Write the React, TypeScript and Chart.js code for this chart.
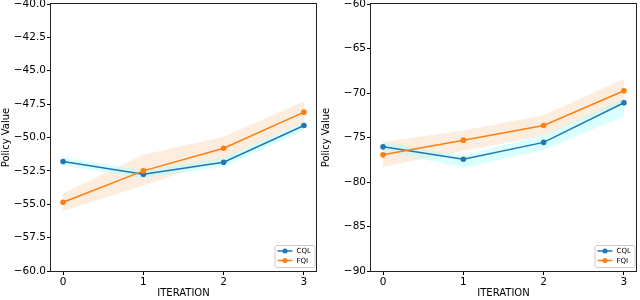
import React, { useEffect, useRef } from "react";
import { Chart, registerables } from "chart.js";

Chart.register(...registerables);

const iterations = [0, 1, 2, 3];
const xTicks = [0, 1, 2, 3];

// Left panel
const leftCQL = [-51.8, -52.75, -51.85, -49.1];
const leftCQLHi = [-51.5, -52.45, -51.5, -48.85];
const leftCQLLo = [-52.1, -53.05, -52.2, -49.5];
const leftFQI = [-54.85, -52.5, -50.8, -48.1];
const leftFQIHi = [-54.2, -51.3, -49.95, -47.3];
const leftFQILo = [-55.5, -53.6, -51.6, -48.9];
const leftYMin = -60;
const leftYMax = -40;
const leftYStep = 2.5;

// Right panel
const rightCQL = [-76.05, -77.45, -75.55, -71.1];
const rightCQLHi = [-75.6, -77.0, -74.75, -70.6];
const rightCQLLo = [-76.5, -78.4, -76.4, -72.6];
const rightFQI = [-76.95, -75.3, -73.65, -69.75];
const rightFQIHi = [-75.5, -74.2, -72.5, -68.4];
const rightFQILo = [-78.3, -76.5, -74.8, -71.0];
const rightYMin = -90;
const rightYMax = -60;
const rightYStep = 5;

const seriesNames = ["CQL", "FQI"];
const colors = ["#1f77b4", "#ff7f0e"];
const bandColors = ["rgba(170,255,255,0.45)", "rgba(245,195,150,0.3)"];

const FONT = "'DejaVu Sans', sans-serif";

const pts = (ys: number[]) => iterations.map((x, i) => ({ x, y: ys[i] }));

const framePlugin = {
  id: "frame",
  afterDatasetsDraw(chart: any) {
    const { ctx, chartArea: a } = chart;
    ctx.save();
    ctx.strokeStyle = "#222";
    ctx.lineWidth = 1;
    ctx.strokeRect(Math.round(a.left) - 0.5, Math.round(a.top) - 0.5, Math.round(a.right - a.left) + 1, Math.round(a.bottom - a.top) + 1);
    ctx.restore();
  },
};

const legendPlugin = {
  id: "boxLegend",
  afterDraw(chart: any) {
    const { ctx, chartArea: a } = chart;
    const w = 40;
    const h = 22;
    const x = a.right - w - 1.5;
    const y = a.bottom - h - 4;
    ctx.save();
    ctx.fillStyle = "rgba(255,255,255,0.85)";
    ctx.strokeStyle = "#cccccc";
    ctx.lineWidth = 1;
    ctx.beginPath();
    (ctx as any).roundRect(x + 0.5, y + 0.5, w, h, 2);
    ctx.fill();
    ctx.stroke();
    ctx.font = `7px ${FONT}`;
    ctx.textBaseline = "middle";
    seriesNames.forEach((name, i) => {
      const ry = y + 6 + i * 9.5;
      ctx.strokeStyle = colors[i];
      ctx.lineWidth = 1.5;
      ctx.beginPath();
      ctx.moveTo(x + 3, ry);
      ctx.lineTo(x + 18, ry);
      ctx.stroke();
      ctx.fillStyle = colors[i];
      ctx.beginPath();
      ctx.arc(x + 10.5, ry, 2.5, 0, Math.PI * 2);
      ctx.fill();
      ctx.fillStyle = "#000";
      ctx.fillText(name, x + 22, ry + 0.5);
    });
    ctx.restore();
  },
};

function makeConfig(
  cql: number[], cqlHi: number[], cqlLo: number[],
  fqi: number[], fqiHi: number[], fqiLo: number[],
  yMin: number, yMax: number, yStep: number, decimals: number
): any {
  const band = (ys: number[], idx: number, fill: any) => ({
    data: pts(ys),
    borderWidth: 0,
    pointRadius: 0,
    backgroundColor: bandColors[idx],
    borderColor: "rgba(0,0,0,0)",
    fill,
    order: 5,
  });
  const line = (ys: number[], idx: number) => ({
    label: seriesNames[idx],
    data: pts(ys),
    borderColor: colors[idx],
    backgroundColor: colors[idx],
    borderWidth: 1.5,
    pointRadius: 2.8,
    pointBorderWidth: 0,
    pointBackgroundColor: colors[idx],
    fill: false,
    order: 1 - idx,
  });
  return {
    type: "line",
    data: {
      datasets: [
        band(cqlHi, 0, "+1"),
        band(cqlLo, 0, false),
        band(fqiHi, 1, "+1"),
        band(fqiLo, 1, false),
        line(cql, 0),
        line(fqi, 1),
      ],
    },
    options: {
      responsive: false,
      animation: false,
      layout: { padding: { top: 4, right: 4, left: 0, bottom: 0 } },
      plugins: {
        legend: { display: false },
        tooltip: { enabled: false },
        filler: { propagate: false },
      },
      scales: {
        x: {
          type: "linear",
          min: -0.15,
          max: 3.15,
          afterBuildTicks: (s: any) => {
            s.ticks = xTicks.map((v) => ({ value: v }));
          },
          afterFit: (s: any) => {
            s.height = 29;
            s.paddingLeft = 0;
            s.paddingRight = 0;
          },
          ticks: {
            color: "#000",
            font: { family: FONT, size: 10.5 },
            padding: 1,
            maxRotation: 0,
            callback: (v: number) => String(v),
          },
          grid: { drawOnChartArea: false, drawTicks: true, tickLength: 4, color: "#000", lineWidth: 1 },
          border: { display: false },
          title: {
            display: true,
            text: "ITERATION",
            color: "#000",
            font: { family: FONT, size: 10 },
            padding: { top: 0, bottom: 1 },
          },
        },
        y: {
          type: "linear",
          min: yMin,
          max: yMax,
          afterBuildTicks: (s: any) => {
            const t: any[] = [];
            for (let v = yMin; v <= yMax + 1e-9; v += yStep) t.push({ value: v });
            s.ticks = t;
          },
          afterFit: (s: any) => {
            s.width = 51;
            s.paddingTop = 0;
            s.paddingBottom = 0;
          },
          ticks: {
            color: "#000",
            font: { family: FONT, size: 10.5 },
            padding: 1,
            callback: (v: number) => v.toFixed(decimals).replace("-", "\u2212"),
          },
          grid: { drawOnChartArea: false, drawTicks: true, tickLength: 4, color: "#000", lineWidth: 1 },
          border: { display: false },
          title: {
            display: true,
            text: "Policy Value",
            color: "#000",
            font: { family: FONT, size: 10 },
            padding: { top: 0, bottom: 0 },
          },
        },
      },
    },
    plugins: [framePlugin, legendPlugin],
  };
}

function Panel(props: { cfg: () => any }) {
  const ref = useRef<HTMLCanvasElement>(null);
  useEffect(() => {
    const chart = new Chart(ref.current as HTMLCanvasElement, props.cfg());
    return () => chart.destroy();
  }, []);
  return <canvas ref={ref} width={320} height={300} style={{ display: "block", width: 320, height: 300 }} />;
}

export default function App() {
  return (
    <div style={{ position: "absolute", left: 0, top: 0, width: 640, height: 300, display: "flex", background: "#fff" }}>
      <Panel cfg={() => makeConfig(leftCQL, leftCQLHi, leftCQLLo, leftFQI, leftFQIHi, leftFQILo, leftYMin, leftYMax, leftYStep, 1)} />
      <Panel cfg={() => makeConfig(rightCQL, rightCQLHi, rightCQLLo, rightFQI, rightFQIHi, rightFQILo, rightYMin, rightYMax, rightYStep, 0)} />
    </div>
  );
}
